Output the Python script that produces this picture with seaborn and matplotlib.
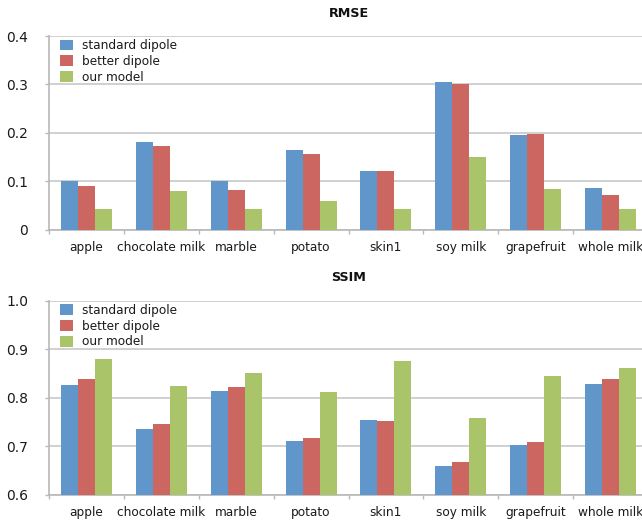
import matplotlib
matplotlib.use("Agg")
import matplotlib.pyplot as plt
import seaborn as sns
import pandas as pd
from matplotlib.ticker import FixedLocator

categories = ["apple", "chocolate milk", "marble", "potato", "skin1",
              "soy milk", "grapefruit", "whole milk"]
series = ["standard dipole", "better dipole", "our model"]

rmse_standard = [0.101, 0.181, 0.100, 0.165, 0.121, 0.305, 0.196, 0.086]
rmse_better   = [0.090, 0.173, 0.082, 0.156, 0.121, 0.301, 0.198, 0.072]
rmse_ours     = [0.043, 0.080, 0.043, 0.059, 0.043, 0.150, 0.084, 0.043]

ssim_standard = [0.826, 0.735, 0.814, 0.711, 0.754, 0.659, 0.702, 0.828]
ssim_better   = [0.838, 0.746, 0.822, 0.717, 0.752, 0.667, 0.709, 0.838]
ssim_ours     = [0.880, 0.824, 0.851, 0.812, 0.876, 0.758, 0.845, 0.861]

rmse_ticks = [0, 0.1, 0.2, 0.3, 0.4]
rmse_ticklabels = ["0", "0.1", "0.2", "0.3", "0.4"]
ssim_ticks = [0.6, 0.7, 0.8, 0.9, 1.0]
ssim_ticklabels = ["0.6", "0.7", "0.8", "0.9", "1.0"]

colors = ["#6096CA", "#CC6660", "#AAC46A"]


def long_df(a, b, c):
    rows = []
    for name, vals in zip(series, [a, b, c]):
        for cat, v in zip(categories, vals):
            rows.append({"category": cat, "series": name, "value": v})
    return pd.DataFrame(rows)


sns.set_theme(style="white")
plt.rcParams["font.family"] = ["DejaVu Sans"]

fig = plt.figure(figsize=(6.42, 5.23), dpi=100)
ax1 = fig.add_axes([49 / 642, (523 - 229.7) / 523, 599 / 642, 193.7 / 523])
ax2 = fig.add_axes([49 / 642, (523 - 494.7) / 523, 599 / 642, 194 / 523])

panels = [
    (ax1, long_df(rmse_standard, rmse_better, rmse_ours), "RMSE", (0, 0.4), rmse_ticks, rmse_ticklabels),
    (ax2, long_df(ssim_standard, ssim_better, ssim_ours), "SSIM", (0.6, 1.0), ssim_ticks, ssim_ticklabels),
]

for ax, df, title, ylim, ticks, labels in panels:
    sns.barplot(data=df, x="category", y="value", hue="series", order=categories,
                hue_order=series, palette=colors, width=0.68, gap=0,
                saturation=1, edgecolor="none", linewidth=0, ax=ax, zorder=3)
    ax.set_ylim(*ylim)
    ax.set_xlim(-0.5, len(categories) - 0.5)
    ax.set_yticks(ticks)
    ax.set_yticklabels(labels, fontsize=10, color="#1a1a1a")
    ax.set_xlabel("")
    ax.set_ylabel("")
    ax.set_title(title, fontsize=9.2, fontweight="bold", pad=14, color="#111111")
    ax.yaxis.grid(True, color="#C8C8C8", linewidth=1.2, zorder=0)
    ax.set_axisbelow(True)
    for s in ["top", "right"]:
        ax.spines[s].set_visible(False)
    for s in ["left", "bottom"]:
        ax.spines[s].set_color("#B8B8B8")
        ax.spines[s].set_linewidth(1.2)
    ax.tick_params(axis="y", length=3, width=1, color="#B8B8B8", pad=12, left=True)
    ax.tick_params(axis="x", which="major", length=0, pad=8, labelsize=8.7,
                   labelcolor="#1a1a1a")
    ax.xaxis.set_minor_locator(FixedLocator([i - 0.5 for i in range(len(categories) + 1)]))
    ax.tick_params(axis="x", which="minor", length=3, width=1, color="#B8B8B8", bottom=True)
    leg = ax.legend(loc="upper left", frameon=False, fontsize=8.7,
                    handlelength=1.0, handleheight=1.0, handletextpad=0.8,
                    labelspacing=0.22, borderaxespad=0.3,
                    bbox_to_anchor=(0.005, 1.027))
    for t in leg.get_texts():
        t.set_color("#1a1a1a")

fig.savefig("out.png", dpi=100)
